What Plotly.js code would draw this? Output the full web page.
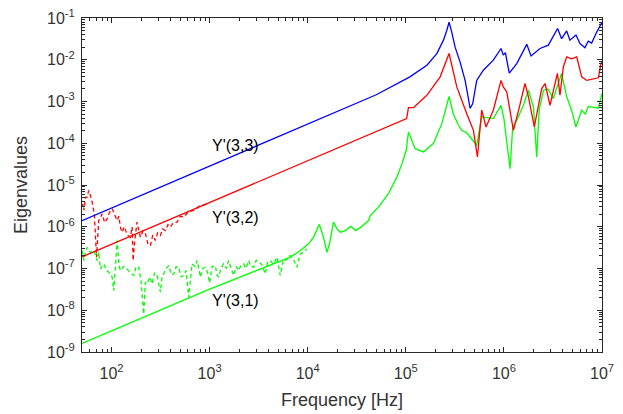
<!DOCTYPE html>
<html>
<head>
<meta charset="utf-8">
<script src="https://cdn.plot.ly/plotly-3.0.1.min.js"></script>
<style>html,body{margin:0;padding:0;background:#fff;}#chart{width:623px;height:414px;}</style>
</head>
<body>
<div id="chart"></div>
<script>
// ---- Data ----
// Y'(3,3) (blue, solid)
const blueFreq = [50, 1000, 10000, 50000, 110000, 164000, 207000, 242000, 262000, 276000, 294000, 318000, 357000, 402000, 435000, 452000, 481000, 528000, 617000, 780000, 935000, 986000, 1035000, 1135000, 1352000, 1710000, 1890000, 2333000, 2838000, 3524000, 3873000, 4365000, 4710000, 5430000, 5960000, 6700000, 7240000, 7850000, 8830000, 9700000, 10000000];
const blueVal  = [1.4e-6, 2.8e-5, 2.8e-4, 1.45e-3, 3.9e-3, 7.4e-3, 1.4e-2, 2.95e-2, 5.1e-2, 7.9e-2, 4.6e-2, 2.0e-2, 8.9e-3, 3.2e-3, 1.17e-3, 6.8e-4, 8.9e-4, 3.2e-3, 5.6e-3, 9.8e-3, 1.86e-2, 1.29e-2, 1.48e-2, 4.8e-3, 8.1e-3, 2.34e-2, 1.23e-2, 1.86e-2, 2.24e-2, 5.6e-2, 3.2e-2, 4.9e-2, 2.95e-2, 3.9e-2, 2.45e-2, 1.95e-2, 2.8e-2, 2.5e-2, 4.6e-2, 7.4e-2, 7.9e-2];

// Y'(3,2) (red, solid)
const redFreq = [50, 1000, 10000, 102000, 106400, 119700, 163700, 224000, 276000, 331000, 418000, 489000, 537000, 594000, 658000, 780000, 935000, 986000, 1069000, 1250000, 1440000, 1640000, 1780000, 2040000, 2430000, 2630000, 2950000, 3510000, 3730000, 4040000, 4370000, 4900000, 5520000, 6210000, 6980000, 9160000, 9770000, 10000000];
const redVal  = [1.9e-7, 3.8e-6, 3.8e-5, 3.9e-4, 7.1e-4, 7.1e-4, 1.41e-3, 3.9e-3, 1.41e-2, 2.24e-3, 5.1e-4, 2.04e-4, 4.7e-5, 6.2e-4, 2.45e-4, 6.2e-4, 3.2e-3, 2.24e-3, 1.7e-3, 2.04e-4, 7.4e-4, 2.7e-3, 1.29e-3, 2.45e-4, 2.04e-3, 2.7e-3, 8.1e-4, 4.7e-3, 1.41e-3, 6.8e-3, 1.17e-2, 1.05e-2, 1.17e-2, 3.9e-3, 3.2e-3, 3.7e-3, 8.1e-3, 8.9e-3];

// Y'(3,2) low-frequency measured (red, dashed)
const redDashFreq = [50, 51.3, 52.5, 54.3, 56.2, 58.6, 61, 63.5, 66.8, 70.3, 74.1, 80.4, 85.1, 90.4, 95.5, 101.6, 107, 114, 119, 123, 128, 135, 145, 156, 162, 166, 172, 182, 188, 197, 209, 222, 234, 249, 263, 280, 295, 315, 331, 354, 376, 398, 427, 466, 501, 545, 603, 687, 794, 942];
const redDashVal  = [2.95e-6, 3.5e-6, 2.5e-6, 5.1e-6, 5.0e-6, 7.4e-6, 5.6e-6, 3.9e-6, 2.0e-6, 1.86e-7, 1.41e-6, 2.04e-6, 1.26e-6, 1.55e-6, 2.24e-6, 2.7e-6, 2.0e-6, 1.41e-6, 1.78e-6, 9.8e-7, 7.4e-7, 1.0e-6, 6.3e-7, 5.6e-7, 1.0e-6, 1.55e-7, 4.5e-7, 1.29e-6, 8.9e-7, 5.6e-7, 7.9e-7, 6.8e-7, 4.0e-7, 3.5e-7, 6.3e-7, 4.7e-7, 7.1e-7, 6.2e-7, 8.9e-7, 8.1e-7, 1.12e-6, 9.8e-7, 1.26e-6, 1.29e-6, 1.78e-6, 1.7e-6, 2.24e-6, 2.45e-6, 3.2e-6, 3.5e-6];

// Y'(3,1) (green, solid)
const greenFreq = [50, 1000, 6640, 8400, 10200, 11480, 13120, 14490, 15700, 16670, 18320, 19860, 21500, 24100, 27500, 31000, 35600, 41700, 43400, 52600, 66500, 81100, 91200, 101000, 106400, 124500, 151400, 191000, 233000, 276000, 305000, 344000, 372000, 417000, 452000, 528000, 594000, 780000, 935000, 1000000, 1156000, 1230000, 1352000, 1580000, 1780000, 2000000, 2160000, 2290000, 2530000, 2820000, 3190000, 3870000, 4370000, 4900000, 5430000, 6210000, 6760000, 7240000, 9160000, 10000000];
const greenVal  = [1.6e-9, 3.2e-8, 1.87e-7, 2.7e-7, 3.9e-7, 5.6e-7, 1.14e-6, 5.6e-7, 2.45e-7, 3.9e-7, 1.29e-6, 8.9e-7, 7.4e-7, 8.1e-7, 1.02e-6, 8.1e-7, 1.02e-6, 1.41e-6, 1.86e-6, 2.95e-6, 6.2e-6, 1.55e-5, 3.2e-5, 6.8e-5, 1.86e-4, 7.4e-5, 6.2e-5, 9.8e-5, 2.95e-4, 1.32e-3, 5.1e-4, 2.7e-4, 2.04e-4, 1.78e-4, 1.41e-4, 8.9e-5, 4.3e-4, 3.9e-4, 8.1e-4, 3.9e-4, 2.45e-5, 2.5e-4, 3.5e-4, 8.1e-4, 1.86e-3, 7.4e-4, 4.7e-5, 6.3e-4, 1.86e-3, 2.0e-3, 1.17e-3, 4.7e-3, 1.29e-3, 6.2e-4, 2.45e-4, 6.2e-4, 5.0e-4, 7.6e-4, 6.9e-4, 1.55e-3];

// Y'(3,1) low-frequency measured (green, dashed)
const greenDashFreq = [50, 52.5, 54.3, 56.5, 61, 65.9, 71.5, 74, 77, 83.4, 89, 93.8, 101.6, 105.4, 110, 114, 119, 123, 133, 144, 155, 169, 178, 189, 200, 213, 221, 231, 245, 259, 275, 292, 315, 327, 340, 359, 383, 407, 431, 457, 484, 513, 545, 575, 612, 638, 662, 708, 745, 776, 805, 851, 906, 955, 1000, 1059, 1143, 1189, 1236, 1303, 1390, 1479, 1563, 1660, 1758, 1862, 1977, 2089, 2223, 2344, 2500, 2630, 2812, 2985, 3155, 3388, 3698, 3890, 4150, 4467, 4864, 5248, 5675, 6026, 6637, 7079, 7762, 8395, 9120, 9817];
const greenDashVal  = [2.7e-7, 1.55e-7, 2.5e-7, 3.2e-7, 2.4e-7, 2.7e-7, 1.55e-7, 2.5e-7, 9.8e-8, 1.29e-7, 8.9e-8, 8.1e-8, 6.2e-8, 2.95e-8, 1.26e-7, 4.7e-7, 1.26e-7, 8.9e-8, 1.12e-7, 9.8e-8, 7.9e-8, 6.8e-8, 1.12e-7, 1.07e-7, 5.0e-8, 8.1e-9, 4.7e-8, 4.3e-8, 6.3e-8, 4.3e-8, 7.9e-8, 6.8e-8, 2.7e-8, 6.3e-8, 7.4e-8, 1.0e-7, 1.17e-7, 7.1e-8, 7.4e-8, 1.12e-7, 1.07e-7, 6.3e-8, 6.8e-8, 8.9e-8, 2.04e-8, 6.3e-8, 1.29e-7, 1.12e-7, 1.55e-7, 1.0e-7, 6.2e-8, 1.0e-7, 1.07e-7, 7.9e-8, 4.5e-8, 1.12e-7, 1.17e-7, 7.1e-8, 6.2e-8, 1.0e-7, 1.29e-7, 1.0e-7, 1.55e-7, 1.0e-7, 6.8e-8, 1.12e-7, 8.9e-8, 1.2e-7, 1.29e-7, 1.0e-7, 1.55e-7, 1.12e-7, 1.07e-7, 1.58e-7, 1.41e-7, 1.26e-7, 7.4e-8, 1.41e-7, 1.55e-7, 1.26e-7, 1.86e-7, 6.8e-8, 1.7e-7, 1.58e-7, 2.04e-7, 1.78e-7, 1.07e-7, 2.24e-7, 2.5e-7, 2.95e-7];

// Labels
const seriesLabels = ["Y'(3,3)", "Y'(3,2)", "Y'(3,1)"];
const labelFreq = [1000, 1000, 1000];
const labelVal = [8.9e-5, 1.67e-6, 1.71e-8];
const xTickVals = [1e2, 1e3, 1e4, 1e5, 1e6, 1e7];
const xTickText = ['10<sup>2</sup>', '10<sup>3</sup>', '10<sup>4</sup>', '10<sup>5</sup>', '10<sup>6</sup>', '10<sup>7</sup>'];
const yTickVals = [1e-9, 1e-8, 1e-7, 1e-6, 1e-5, 1e-4, 1e-3, 1e-2, 1e-1];
const yTickText = ['10<sup>-9</sup>', '10<sup>-8</sup>', '10<sup>-7</sup>', '10<sup>-6</sup>', '10<sup>-5</sup>', '10<sup>-4</sup>', '10<sup>-3</sup>', '10<sup>-2</sup>', '10<sup>-1</sup>'];
const xTitle = 'Frequency [Hz]';
const yTitle = 'Eigenvalues';

// ---- Chart ----
const BLUE = '#0000ff', RED = '#ff0000', GREEN = '#00ff00';
const AX = '#262626';
const TXT = '#333333';
const FONT = 'Liberation Sans, Arial, Helvetica, sans-serif';
const LW = 1.3;

const traces = [
  {x: redDashFreq, y: redDashVal, mode: 'lines', line: {color: RED, width: LW, dash: '4px,3px'}},
  {x: greenDashFreq, y: greenDashVal, mode: 'lines', line: {color: GREEN, width: LW, dash: '4px,3px'}},
  {x: greenFreq, y: greenVal, mode: 'lines', line: {color: GREEN, width: LW}},
  {x: redFreq, y: redVal, mode: 'lines', line: {color: RED, width: LW}},
  {x: blueFreq, y: blueVal, mode: 'lines', line: {color: BLUE, width: LW}}
];

const axisCommon = {
  type: 'log',
  showline: true, linecolor: AX, linewidth: 1,
  mirror: 'allticks',
  ticks: 'inside', ticklen: 5, tickwidth: 1, tickcolor: AX,
  showgrid: false, zeroline: false,
  tickfont: {family: FONT, size: 16, color: TXT},
  minor: {ticks: 'inside', ticklen: 3, tickwidth: 1, tickcolor: AX, showgrid: false, dtick: 'D1'}
};

const layout = {
  width: 623, height: 414,
  margin: {l: 82, r: 21, t: 18, b: 62},
  paper_bgcolor: '#ffffff', plot_bgcolor: '#ffffff',
  showlegend: false,
  font: {family: FONT, color: TXT},
  xaxis: Object.assign({}, axisCommon, {
    range: [Math.log10(50), 7],
    tickmode: 'array', tickvals: xTickVals, ticktext: xTickText,
    ticklabelstandoff: 7,
    title: {text: xTitle, font: {family: FONT, size: 18, color: TXT}, standoff: 12}
  }),
  yaxis: Object.assign({}, axisCommon, {
    range: [-9, -1],
    tickmode: 'array', tickvals: yTickVals, ticktext: yTickText,
    ticklabelstandoff: 3,
    title: {text: yTitle, font: {family: FONT, size: 18, color: TXT}, standoff: 14}
  }),
  annotations: seriesLabels.map((t, i) => ({
    x: Math.log10(labelFreq[i]), y: Math.log10(labelVal[i]),
    xref: 'x', yref: 'y', text: t, showarrow: false,
    xanchor: 'left', yanchor: 'middle',
    font: {family: FONT, size: 16, color: '#000000'}
  }))
};

Plotly.newPlot('chart', traces, layout, {staticPlot: true, displayModeBar: false});
</script>
</body>
</html>
